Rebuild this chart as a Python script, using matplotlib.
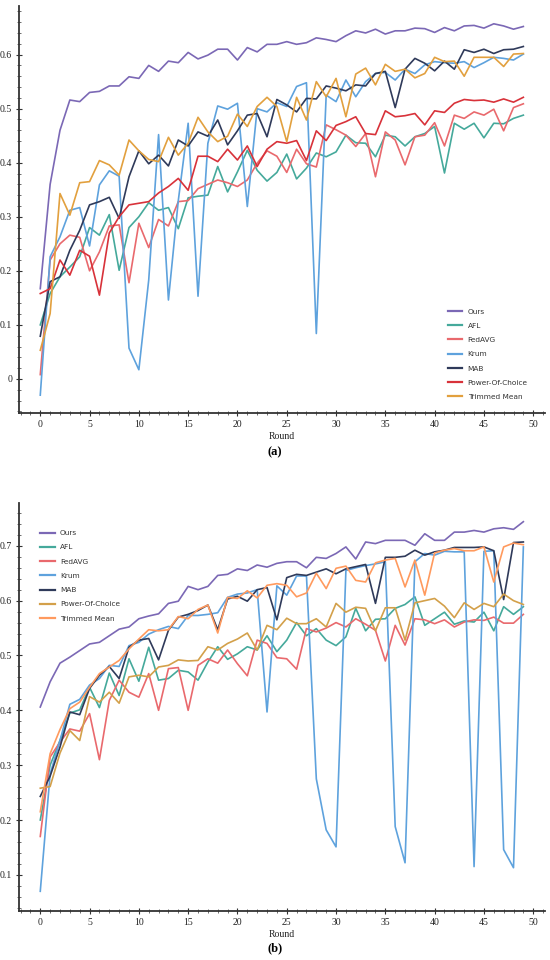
import matplotlib
matplotlib.use("Agg")
import matplotlib.pyplot as plt
from matplotlib.ticker import MultipleLocator

rounds = list(range(50))
labels = ["Ours", "AFL", "FedAVG", "Krum", "MAB", "Power-Of-Choice", "Trimmed Mean"]

# ---------- panel (a) ----------
ours_a = [0.167, 0.36, 0.46, 0.516, 0.513, 0.53, 0.532, 0.542, 0.542, 0.559,
          0.556, 0.58, 0.569, 0.588, 0.585, 0.604, 0.592, 0.599, 0.61, 0.61,
          0.59, 0.613, 0.605, 0.619, 0.619, 0.624, 0.619, 0.622, 0.631, 0.628,
          0.624, 0.635, 0.644, 0.64, 0.647, 0.638, 0.644, 0.644, 0.649, 0.648,
          0.641, 0.65, 0.644, 0.653, 0.654, 0.649, 0.657, 0.653, 0.647, 0.652]
afl_a = [0.10, 0.158, 0.189, 0.207, 0.226, 0.28, 0.266, 0.304, 0.201, 0.28,
         0.3, 0.326, 0.312, 0.317, 0.278, 0.335, 0.338, 0.34, 0.393, 0.346,
         0.383, 0.423, 0.386, 0.366, 0.382, 0.416, 0.37, 0.39, 0.418, 0.411,
         0.42, 0.451, 0.437, 0.436, 0.411, 0.451, 0.448, 0.431, 0.448, 0.454,
         0.467, 0.381, 0.473, 0.462, 0.473, 0.446, 0.473, 0.472, 0.482, 0.488]
fedavg_a = [0.008, 0.22, 0.25, 0.266, 0.262, 0.2, 0.235, 0.283, 0.285, 0.178,
            0.288, 0.243, 0.295, 0.283, 0.328, 0.33, 0.352, 0.36, 0.368, 0.363,
            0.356, 0.368, 0.399, 0.422, 0.412, 0.382, 0.425, 0.398, 0.392, 0.47,
            0.461, 0.451, 0.43, 0.454, 0.374, 0.457, 0.442, 0.396, 0.448, 0.451,
            0.474, 0.431, 0.488, 0.482, 0.494, 0.488, 0.499, 0.459, 0.502, 0.509]
krum_a = [-0.03, 0.226, 0.263, 0.312, 0.317, 0.246, 0.359, 0.385, 0.375, 0.057,
          0.017, 0.183, 0.452, 0.146, 0.33, 0.473, 0.153, 0.436, 0.505, 0.499,
          0.51, 0.319, 0.5, 0.494, 0.511, 0.504, 0.541, 0.548, 0.084, 0.525,
          0.513, 0.553, 0.522, 0.55, 0.565, 0.567, 0.553, 0.573, 0.565, 0.581,
          0.587, 0.585, 0.584, 0.587, 0.576, 0.585, 0.595, 0.593, 0.59, 0.601]
mab_a = [0.079, 0.18, 0.189, 0.238, 0.275, 0.322, 0.328, 0.336, 0.297, 0.374,
         0.422, 0.398, 0.414, 0.394, 0.442, 0.431, 0.457, 0.449, 0.479, 0.433,
         0.459, 0.488, 0.491, 0.448, 0.517, 0.507, 0.494, 0.519, 0.518, 0.542,
         0.538, 0.533, 0.544, 0.542, 0.565, 0.569, 0.502, 0.573, 0.593, 0.584,
         0.57, 0.588, 0.573, 0.609, 0.604, 0.61, 0.602, 0.609, 0.61, 0.615]
poc_a = [0.158, 0.167, 0.22, 0.192, 0.238, 0.227, 0.155, 0.27, 0.3, 0.322,
         0.325, 0.328, 0.344, 0.356, 0.371, 0.349, 0.412, 0.412, 0.402, 0.425,
         0.405, 0.431, 0.393, 0.425, 0.439, 0.436, 0.441, 0.404, 0.459, 0.441,
         0.469, 0.476, 0.485, 0.454, 0.452, 0.496, 0.485, 0.487, 0.491, 0.47,
         0.496, 0.493, 0.51, 0.517, 0.515, 0.516, 0.512, 0.518, 0.512, 0.521]
tm_a = [0.053, 0.121, 0.343, 0.303, 0.363, 0.365, 0.404, 0.396, 0.377, 0.442,
        0.422, 0.406, 0.402, 0.447, 0.414, 0.436, 0.484, 0.457, 0.439, 0.449,
        0.49, 0.467, 0.504, 0.521, 0.504, 0.439, 0.521, 0.479, 0.55, 0.522,
        0.556, 0.485, 0.564, 0.575, 0.544, 0.582, 0.569, 0.573, 0.557, 0.565,
        0.595, 0.587, 0.588, 0.56, 0.595, 0.595, 0.595, 0.578, 0.601, 0.602]

# ---------- panel (b) ----------
ours_b = [0.406, 0.452, 0.486, 0.497, 0.509, 0.521, 0.524, 0.536, 0.548, 0.552,
          0.567, 0.572, 0.576, 0.595, 0.599, 0.626, 0.62, 0.626, 0.646, 0.648,
          0.658, 0.655, 0.665, 0.661, 0.668, 0.671, 0.671, 0.66, 0.679, 0.677,
          0.686, 0.698, 0.676, 0.707, 0.704, 0.71, 0.71, 0.71, 0.701, 0.722,
          0.71, 0.71, 0.725, 0.725, 0.728, 0.725, 0.731, 0.733, 0.73, 0.744]
afl_b = [0.2, 0.3, 0.345, 0.395, 0.401, 0.442, 0.405, 0.468, 0.427, 0.494,
         0.453, 0.515, 0.455, 0.458, 0.473, 0.47, 0.455, 0.488, 0.516, 0.493,
         0.503, 0.516, 0.51, 0.536, 0.507, 0.528, 0.56, 0.536, 0.549, 0.528,
         0.518, 0.534, 0.586, 0.545, 0.566, 0.567, 0.586, 0.593, 0.607, 0.555,
         0.567, 0.579, 0.557, 0.563, 0.561, 0.579, 0.545, 0.589, 0.575, 0.589]
fedavg_b = [0.17, 0.315, 0.342, 0.366, 0.362, 0.394, 0.31, 0.418, 0.455, 0.433,
            0.424, 0.467, 0.4, 0.476, 0.478, 0.4, 0.482, 0.494, 0.486, 0.51,
            0.485, 0.463, 0.528, 0.522, 0.496, 0.494, 0.475, 0.549, 0.543, 0.55,
            0.56, 0.552, 0.567, 0.557, 0.546, 0.49, 0.555, 0.519, 0.567, 0.565,
            0.558, 0.565, 0.552, 0.561, 0.565, 0.564, 0.57, 0.559, 0.559, 0.575]
krum_b = [0.07, 0.284, 0.345, 0.411, 0.42, 0.446, 0.458, 0.482, 0.48, 0.518,
          0.524, 0.539, 0.547, 0.553, 0.549, 0.573, 0.573, 0.575, 0.578, 0.606,
          0.612, 0.614, 0.62, 0.397, 0.627, 0.61, 0.645, 0.645, 0.275, 0.182,
          0.151, 0.655, 0.66, 0.664, 0.667, 0.671, 0.188, 0.122, 0.671, 0.686,
          0.683, 0.69, 0.689, 0.689, 0.115, 0.69, 0.691, 0.146, 0.113, 0.698]
mab_b = [0.243, 0.28, 0.333, 0.397, 0.392, 0.44, 0.464, 0.48, 0.458, 0.515,
         0.528, 0.531, 0.492, 0.546, 0.57, 0.575, 0.582, 0.592, 0.547, 0.603,
         0.608, 0.599, 0.62, 0.624, 0.565, 0.642, 0.648, 0.646, 0.652, 0.658,
         0.649, 0.658, 0.662, 0.666, 0.595, 0.679, 0.679, 0.681, 0.692, 0.683,
         0.689, 0.692, 0.697, 0.697, 0.697, 0.698, 0.691, 0.602, 0.706, 0.707]
poc_b = [0.258, 0.261, 0.322, 0.363, 0.345, 0.425, 0.415, 0.433, 0.413, 0.461,
         0.464, 0.461, 0.479, 0.482, 0.492, 0.49, 0.491, 0.516, 0.51, 0.522,
         0.53, 0.541, 0.51, 0.555, 0.547, 0.568, 0.558, 0.558, 0.567, 0.552,
         0.595, 0.579, 0.588, 0.586, 0.545, 0.587, 0.587, 0.528, 0.596, 0.6,
         0.604, 0.59, 0.569, 0.596, 0.584, 0.595, 0.589, 0.612, 0.6, 0.593]
tm_b = [0.215, 0.321, 0.365, 0.403, 0.415, 0.442, 0.467, 0.479, 0.491, 0.512,
        0.53, 0.547, 0.545, 0.547, 0.571, 0.567, 0.584, 0.592, 0.541, 0.606,
        0.604, 0.618, 0.605, 0.628, 0.631, 0.628, 0.607, 0.614, 0.65, 0.622,
        0.659, 0.663, 0.637, 0.634, 0.669, 0.674, 0.677, 0.625, 0.674, 0.61,
        0.687, 0.692, 0.695, 0.691, 0.691, 0.698, 0.634, 0.698, 0.705, 0.702]

colors_a = ["#7b68b5", "#45a99b", "#e9696d", "#5ea2dd", "#2f3a5a", "#d8323a", "#e2a03e"]
colors_b = ["#7b68b5", "#45a99b", "#e9696d", "#5ea2dd", "#2f3a5a", "#d3a04a", "#ff9a5e"]

series_a = [ours_a, afl_a, fedavg_a, krum_a, mab_a, poc_a, tm_a]
series_b = [ours_b, afl_b, fedavg_b, krum_b, mab_b, poc_b, tm_b]

fig = plt.figure(figsize=(5.5, 9.6), dpi=100)
ax_a = fig.add_axes([0.0345, 0.5698, 0.9565, 0.424])
ax_b = fig.add_axes([0.0345, 0.051, 0.9565, 0.425])

serif = "Liberation Serif"

def style(ax, ylim, yticks, yticklabels):
    ax.set_xlim(-2.16, 51.2)
    ax.set_ylim(*ylim)
    for s in ["top", "right"]:
        ax.spines[s].set_visible(False)
    for s in ["left", "bottom"]:
        ax.spines[s].set_color("#333333")
        ax.spines[s].set_linewidth(1.3)
    ax.xaxis.set_major_locator(MultipleLocator(5))
    ax.xaxis.set_minor_locator(MultipleLocator(1))
    ax.set_yticks(yticks)
    ax.set_yticklabels(yticklabels)
    ax.yaxis.set_minor_locator(MultipleLocator(0.02))
    ax.tick_params(which="major", direction="inout", length=4, width=0.8,
                   colors="#333333", labelsize=7, pad=3)
    ax.tick_params(which="minor", direction="inout", length=2.5, width=0.6,
                   colors="#555555")
    for lab in ax.get_xticklabels() + ax.get_yticklabels():
        lab.set_family(serif)
        lab.set_color("#222222")
    ax.set_xlabel("Round", family=serif, fontsize=7, labelpad=2, color="#222222")

for ax, series, colors in [(ax_a, series_a, colors_a), (ax_b, series_b, colors_b)]:
    for vals, c, lab in zip(series, colors, labels):
        ax.plot(rounds, vals, color=c, lw=1.2, label=lab)

style(ax_a, (-0.063, 0.69), [0, 0.1, 0.2, 0.3, 0.4, 0.5, 0.6],
      ["0", "0.1", "0.2", "0.3", "0.4", "0.5", "0.6"])
style(ax_b, (0.034, 0.778), [0.1, 0.2, 0.3, 0.4, 0.5, 0.6, 0.7],
      ["0.1", "0.2", "0.3", "0.4", "0.5", "0.6", "0.7"])

leg_kw = dict(frameon=False, fontsize=5.3, handlelength=2.0, handletextpad=0.7,
              labelspacing=1.1, borderpad=0, borderaxespad=0)
leg_a = ax_a.legend(loc="upper left", bbox_to_anchor=(0.815, 0.257), **leg_kw)
leg_b = ax_b.legend(loc="upper left", bbox_to_anchor=(0.040, 0.934), **leg_kw)
for leg in (leg_a, leg_b):
    for t in leg.get_texts():
        t.set_color("#333333")
    for h in leg.get_lines():
        h.set_linewidth(1.6)

fig.text(0.5, 1 - 452 / 960, "(a)", ha="center", va="center",
         family=serif, fontsize=9, fontweight="bold")
fig.text(0.5, 1 - 948 / 960, "(b)", ha="center", va="center",
         family=serif, fontsize=9, fontweight="bold")

fig.savefig("out.png", dpi=100)
